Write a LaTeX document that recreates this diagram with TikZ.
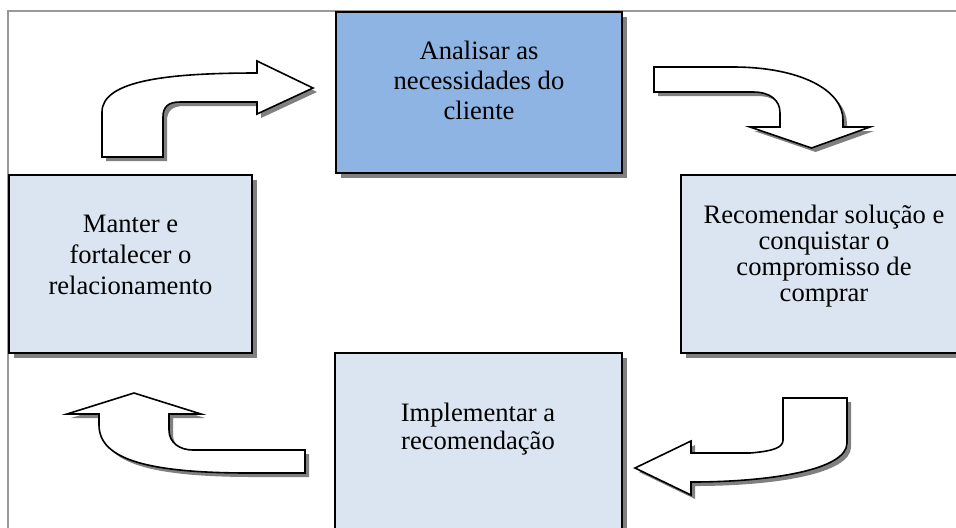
\documentclass[tikz,border=0pt]{standalone}
\usepackage{fontspec}
\setmainfont{Liberation Serif}
\usetikzlibrary{shadows}

\definecolor{azulforte}{HTML}{8EB4E3}
\definecolor{azulclaro}{HTML}{DBE5F1}

\begin{document}
\begin{tikzpicture}[x=0.5pt, y=-0.5pt,
    caixa/.style={draw=black, line width=1pt, fill=azulclaro, inner sep=0pt,
        drop shadow={shadow xshift=2.5pt, shadow yshift=-2.5pt, fill=black!50, opacity=1}},
    texto/.style={align=center, inner sep=0pt},
    seta/.style={draw=black, line width=0.8pt, fill=white, line join=miter,
        drop shadow={shadow xshift=2pt, shadow yshift=-2pt, fill=black!50, opacity=1}}]

                \useasboundingbox (0,0) rectangle (956,527);
                \clip (0,0) rectangle (956,527);

                % moldura
                \draw[black!40, line width=1pt] (8,540) -- (8,11) -- (970,11);

                % caixas
                \node[caixa, fill=azulforte, minimum width=143pt, minimum height=80.5pt] (analisar) at (479,92.5) {};
                \node[caixa, minimum width=121.5pt, minimum height=89pt] (manter) at (130.5,264) {};
                \node[caixa, minimum width=143pt, minimum height=89pt] (recomendar) at (824,264) {};
                \node[caixa, minimum width=143.5pt, minimum height=93.5pt] (implementar) at (478.5,446.5) {};

                \node[texto, font=\fontsize{13.3}{15}\selectfont] (analisar-txt) at (479,80) {Analisar as\\necessidades do\\cliente};
                \node[texto, font=\fontsize{13.3}{15.5}\selectfont] (manter-txt) at (130.5,255) {Manter e\\fortalecer o\\relacionamento};
                \node[texto, font=\fontsize{13.3}{13}\selectfont] (recomendar-txt) at (824,256) {Recomendar solução e\\conquistar o\\compromisso de\\comprar};
                \node[texto, font=\fontsize{13.3}{14}\selectfont] (implementar-txt) at (478,429) {Implementar a\\recomendação};

                % setas
                \draw[seta] (102,157) -- (102,112) .. controls (102,80) and (170,73) .. (257,73)
                    -- (257,61) -- (313,88) -- (257,114) -- (257,102) -- (180,102)
                    .. controls (168,102) and (163,107) .. (163,117) -- (163,157) -- cycle;
                \draw[seta] (654,67) -- (733,67) .. controls (800,67) and (843,90) .. (843,120)
                    -- (843,127) -- (870,127) -- (811.5,148) -- (750,127) -- (780,127) -- (780,113)
                    .. controls (780,100) and (770,92) .. (753,92) -- (654,92) -- cycle;
                \draw[seta] (783,398) -- (847,398) -- (847,443) .. controls (847,470) and (770,482) .. (691,482)
                    -- (691,495) -- (635,468) -- (691,441) -- (691,453) -- (750,453)
                    .. controls (775,451) and (783,447) .. (783,440) -- cycle;
                \draw[seta] (305,450) -- (305,473) -- (250,473) .. controls (150,473) and (99,460) .. (99,425)
                    -- (99,414) -- (67,414) -- (134,393) -- (201,414) -- (169,414) -- (169,430)
                    .. controls (169,443) and (180,450) .. (193,450) -- cycle;

\end{tikzpicture}
\end{document}
